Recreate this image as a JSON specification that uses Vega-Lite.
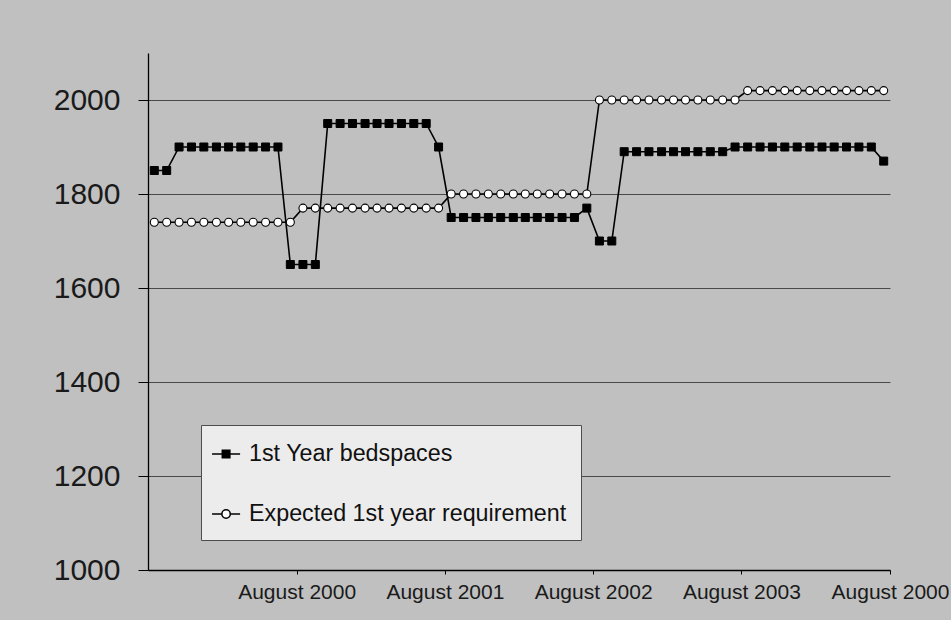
{
  "$schema": "https://vega.github.io/schema/vega-lite/v6.json",
  "width": 742,
  "height": 517,
  "autosize": {"type": "none"},
  "padding": {"left": 148, "top": 53, "right": 61, "bottom": 50},
  "background": "#c0c0c0",
  "config": {"font": "Liberation Sans", "view": {"stroke": null}},
  "data": {
    "values": [
      {"m": "1999-08-01", "s": "1st Year bedspaces", "v": 1850},
      {"m": "1999-09-01", "s": "1st Year bedspaces", "v": 1850},
      {"m": "1999-10-01", "s": "1st Year bedspaces", "v": 1900},
      {"m": "1999-11-01", "s": "1st Year bedspaces", "v": 1900},
      {"m": "1999-12-01", "s": "1st Year bedspaces", "v": 1900},
      {"m": "2000-01-01", "s": "1st Year bedspaces", "v": 1900},
      {"m": "2000-02-01", "s": "1st Year bedspaces", "v": 1900},
      {"m": "2000-03-01", "s": "1st Year bedspaces", "v": 1900},
      {"m": "2000-04-01", "s": "1st Year bedspaces", "v": 1900},
      {"m": "2000-05-01", "s": "1st Year bedspaces", "v": 1900},
      {"m": "2000-06-01", "s": "1st Year bedspaces", "v": 1900},
      {"m": "2000-07-01", "s": "1st Year bedspaces", "v": 1650},
      {"m": "2000-08-01", "s": "1st Year bedspaces", "v": 1650},
      {"m": "2000-09-01", "s": "1st Year bedspaces", "v": 1650},
      {"m": "2000-10-01", "s": "1st Year bedspaces", "v": 1950},
      {"m": "2000-11-01", "s": "1st Year bedspaces", "v": 1950},
      {"m": "2000-12-01", "s": "1st Year bedspaces", "v": 1950},
      {"m": "2001-01-01", "s": "1st Year bedspaces", "v": 1950},
      {"m": "2001-02-01", "s": "1st Year bedspaces", "v": 1950},
      {"m": "2001-03-01", "s": "1st Year bedspaces", "v": 1950},
      {"m": "2001-04-01", "s": "1st Year bedspaces", "v": 1950},
      {"m": "2001-05-01", "s": "1st Year bedspaces", "v": 1950},
      {"m": "2001-06-01", "s": "1st Year bedspaces", "v": 1950},
      {"m": "2001-07-01", "s": "1st Year bedspaces", "v": 1900},
      {"m": "2001-08-01", "s": "1st Year bedspaces", "v": 1750},
      {"m": "2001-09-01", "s": "1st Year bedspaces", "v": 1750},
      {"m": "2001-10-01", "s": "1st Year bedspaces", "v": 1750},
      {"m": "2001-11-01", "s": "1st Year bedspaces", "v": 1750},
      {"m": "2001-12-01", "s": "1st Year bedspaces", "v": 1750},
      {"m": "2002-01-01", "s": "1st Year bedspaces", "v": 1750},
      {"m": "2002-02-01", "s": "1st Year bedspaces", "v": 1750},
      {"m": "2002-03-01", "s": "1st Year bedspaces", "v": 1750},
      {"m": "2002-04-01", "s": "1st Year bedspaces", "v": 1750},
      {"m": "2002-05-01", "s": "1st Year bedspaces", "v": 1750},
      {"m": "2002-06-01", "s": "1st Year bedspaces", "v": 1750},
      {"m": "2002-07-01", "s": "1st Year bedspaces", "v": 1770},
      {"m": "2002-08-01", "s": "1st Year bedspaces", "v": 1700},
      {"m": "2002-09-01", "s": "1st Year bedspaces", "v": 1700},
      {"m": "2002-10-01", "s": "1st Year bedspaces", "v": 1890},
      {"m": "2002-11-01", "s": "1st Year bedspaces", "v": 1890},
      {"m": "2002-12-01", "s": "1st Year bedspaces", "v": 1890},
      {"m": "2003-01-01", "s": "1st Year bedspaces", "v": 1890},
      {"m": "2003-02-01", "s": "1st Year bedspaces", "v": 1890},
      {"m": "2003-03-01", "s": "1st Year bedspaces", "v": 1890},
      {"m": "2003-04-01", "s": "1st Year bedspaces", "v": 1890},
      {"m": "2003-05-01", "s": "1st Year bedspaces", "v": 1890},
      {"m": "2003-06-01", "s": "1st Year bedspaces", "v": 1890},
      {"m": "2003-07-01", "s": "1st Year bedspaces", "v": 1900},
      {"m": "2003-08-01", "s": "1st Year bedspaces", "v": 1900},
      {"m": "2003-09-01", "s": "1st Year bedspaces", "v": 1900},
      {"m": "2003-10-01", "s": "1st Year bedspaces", "v": 1900},
      {"m": "2003-11-01", "s": "1st Year bedspaces", "v": 1900},
      {"m": "2003-12-01", "s": "1st Year bedspaces", "v": 1900},
      {"m": "2004-01-01", "s": "1st Year bedspaces", "v": 1900},
      {"m": "2004-02-01", "s": "1st Year bedspaces", "v": 1900},
      {"m": "2004-03-01", "s": "1st Year bedspaces", "v": 1900},
      {"m": "2004-04-01", "s": "1st Year bedspaces", "v": 1900},
      {"m": "2004-05-01", "s": "1st Year bedspaces", "v": 1900},
      {"m": "2004-06-01", "s": "1st Year bedspaces", "v": 1900},
      {"m": "2004-07-01", "s": "1st Year bedspaces", "v": 1870},
      {"m": "1999-08-01", "s": "Expected 1st year requirement", "v": 1740},
      {"m": "1999-09-01", "s": "Expected 1st year requirement", "v": 1740},
      {"m": "1999-10-01", "s": "Expected 1st year requirement", "v": 1740},
      {"m": "1999-11-01", "s": "Expected 1st year requirement", "v": 1740},
      {"m": "1999-12-01", "s": "Expected 1st year requirement", "v": 1740},
      {"m": "2000-01-01", "s": "Expected 1st year requirement", "v": 1740},
      {"m": "2000-02-01", "s": "Expected 1st year requirement", "v": 1740},
      {"m": "2000-03-01", "s": "Expected 1st year requirement", "v": 1740},
      {"m": "2000-04-01", "s": "Expected 1st year requirement", "v": 1740},
      {"m": "2000-05-01", "s": "Expected 1st year requirement", "v": 1740},
      {"m": "2000-06-01", "s": "Expected 1st year requirement", "v": 1740},
      {"m": "2000-07-01", "s": "Expected 1st year requirement", "v": 1740},
      {"m": "2000-08-01", "s": "Expected 1st year requirement", "v": 1770},
      {"m": "2000-09-01", "s": "Expected 1st year requirement", "v": 1770},
      {"m": "2000-10-01", "s": "Expected 1st year requirement", "v": 1770},
      {"m": "2000-11-01", "s": "Expected 1st year requirement", "v": 1770},
      {"m": "2000-12-01", "s": "Expected 1st year requirement", "v": 1770},
      {"m": "2001-01-01", "s": "Expected 1st year requirement", "v": 1770},
      {"m": "2001-02-01", "s": "Expected 1st year requirement", "v": 1770},
      {"m": "2001-03-01", "s": "Expected 1st year requirement", "v": 1770},
      {"m": "2001-04-01", "s": "Expected 1st year requirement", "v": 1770},
      {"m": "2001-05-01", "s": "Expected 1st year requirement", "v": 1770},
      {"m": "2001-06-01", "s": "Expected 1st year requirement", "v": 1770},
      {"m": "2001-07-01", "s": "Expected 1st year requirement", "v": 1770},
      {"m": "2001-08-01", "s": "Expected 1st year requirement", "v": 1800},
      {"m": "2001-09-01", "s": "Expected 1st year requirement", "v": 1800},
      {"m": "2001-10-01", "s": "Expected 1st year requirement", "v": 1800},
      {"m": "2001-11-01", "s": "Expected 1st year requirement", "v": 1800},
      {"m": "2001-12-01", "s": "Expected 1st year requirement", "v": 1800},
      {"m": "2002-01-01", "s": "Expected 1st year requirement", "v": 1800},
      {"m": "2002-02-01", "s": "Expected 1st year requirement", "v": 1800},
      {"m": "2002-03-01", "s": "Expected 1st year requirement", "v": 1800},
      {"m": "2002-04-01", "s": "Expected 1st year requirement", "v": 1800},
      {"m": "2002-05-01", "s": "Expected 1st year requirement", "v": 1800},
      {"m": "2002-06-01", "s": "Expected 1st year requirement", "v": 1800},
      {"m": "2002-07-01", "s": "Expected 1st year requirement", "v": 1800},
      {"m": "2002-08-01", "s": "Expected 1st year requirement", "v": 2000},
      {"m": "2002-09-01", "s": "Expected 1st year requirement", "v": 2000},
      {"m": "2002-10-01", "s": "Expected 1st year requirement", "v": 2000},
      {"m": "2002-11-01", "s": "Expected 1st year requirement", "v": 2000},
      {"m": "2002-12-01", "s": "Expected 1st year requirement", "v": 2000},
      {"m": "2003-01-01", "s": "Expected 1st year requirement", "v": 2000},
      {"m": "2003-02-01", "s": "Expected 1st year requirement", "v": 2000},
      {"m": "2003-03-01", "s": "Expected 1st year requirement", "v": 2000},
      {"m": "2003-04-01", "s": "Expected 1st year requirement", "v": 2000},
      {"m": "2003-05-01", "s": "Expected 1st year requirement", "v": 2000},
      {"m": "2003-06-01", "s": "Expected 1st year requirement", "v": 2000},
      {"m": "2003-07-01", "s": "Expected 1st year requirement", "v": 2000},
      {"m": "2003-08-01", "s": "Expected 1st year requirement", "v": 2020},
      {"m": "2003-09-01", "s": "Expected 1st year requirement", "v": 2020},
      {"m": "2003-10-01", "s": "Expected 1st year requirement", "v": 2020},
      {"m": "2003-11-01", "s": "Expected 1st year requirement", "v": 2020},
      {"m": "2003-12-01", "s": "Expected 1st year requirement", "v": 2020},
      {"m": "2004-01-01", "s": "Expected 1st year requirement", "v": 2020},
      {"m": "2004-02-01", "s": "Expected 1st year requirement", "v": 2020},
      {"m": "2004-03-01", "s": "Expected 1st year requirement", "v": 2020},
      {"m": "2004-04-01", "s": "Expected 1st year requirement", "v": 2020},
      {"m": "2004-05-01", "s": "Expected 1st year requirement", "v": 2020},
      {"m": "2004-06-01", "s": "Expected 1st year requirement", "v": 2020},
      {"m": "2004-07-01", "s": "Expected 1st year requirement", "v": 2020}
    ]
  },
  "encoding": {
    "x": {
      "field": "m",
      "timeUnit": "utcyearmonth",
      "type": "temporal",
      "bandPosition": 0.5,
      "scale": {
        "type": "utc",
        "domain": [
          {"year": 1999, "month": 8, "date": 1, "utc": true},
          {"year": 2004, "month": 8, "date": 1, "utc": true}
        ]
      },
      "axis": {
        "title": null,
        "grid": false,
        "values": [
          {"year": 2000, "month": 8, "date": 1, "utc": true},
          {"year": 2001, "month": 8, "date": 1, "utc": true},
          {"year": 2002, "month": 8, "date": 1, "utc": true},
          {"year": 2003, "month": 8, "date": 1, "utc": true},
          {"year": 2004, "month": 8, "date": 1, "utc": true}
        ],
        "labelExpr": "utcyear(datum.value) == 2004 ? 'August 2000' : 'August ' + utcyear(datum.value)",
        "tickSize": 4,
        "tickColor": "black",
        "domainColor": "black",
        "domainWidth": 1.3,
        "labelFontSize": 21,
        "labelColor": "#1a1a1a",
        "labelPadding": 7,
        "labelFlush": false,
        "labelOverlap": false,
        "labelBound": false
      }
    },
    "y": {
      "field": "v",
      "type": "quantitative",
      "scale": {"domain": [1000, 2100], "nice": false, "zero": false},
      "axis": {
        "title": null,
        "format": "d",
        "values": [1000, 1200, 1400, 1600, 1800, 2000],
        "tickSize": 10,
        "tickColor": "black",
        "domainColor": "black",
        "domainWidth": 1.3,
        "labelFontSize": 30,
        "labelColor": "#1a1a1a",
        "labelPadding": 18,
        "grid": true,
        "gridColor": "#4a4a4a",
        "gridWidth": 1
      }
    }
  },
  "layer": [
    {
      "mark": {"type": "line", "color": "black", "strokeWidth": 1.6},
      "encoding": {"detail": {"field": "s", "type": "nominal"}}
    },
    {
      "transform": [{"filter": "datum.s == '1st Year bedspaces'"}],
      "mark": {"type": "point", "shape": "square", "filled": true, "fill": "black", "stroke": "black", "strokeWidth": 1, "size": 64, "opacity": 1}
    },
    {
      "transform": [{"filter": "datum.s == 'Expected 1st year requirement'"}],
      "mark": {"type": "point", "shape": "circle", "filled": true, "fill": "white", "stroke": "black", "strokeWidth": 1.1, "size": 64, "opacity": 1}
    },
    {
      "transform": [{"filter": "false"}],
      "mark": {"type": "point", "filled": true, "stroke": "black", "strokeWidth": 1.5, "opacity": 1},
      "encoding": {
        "shape": {
          "field": "s",
          "type": "nominal",
          "scale": {
            "domain": ["1st Year bedspaces", "Expected 1st year requirement"],
            "range": [
              "M-1.28,0H0.72M-0.55,-0.27H-0.01V0.27H-0.55Z",
              "M-1.28,0H-0.58M0.02,0H0.72M0.02,0A0.3,0.3 0 1 1 -0.58,0A0.3,0.3 0 1 1 0.02,0Z"
            ]
          },
          "legend": {
            "title": null,
            "orient": "none",
            "legendX": 53,
            "legendY": 372,
            "direction": "vertical",
            "padding": 14,
            "fillColor": "#ececec",
            "strokeColor": "#4d4d4d",
            "symbolSize": 784,
            "symbolStrokeWidth": 1.5,
            "symbolStrokeColor": "black",
            "symbolOpacity": 1,
            "labelFontSize": 23.3,
            "labelColor": "#111111",
            "labelOffset": 4,
            "labelLimit": 500,
            "rowPadding": 33,
            "encode": {
              "symbols": {
                "update": {
                  "stroke": {"value": "black"},
                  "strokeWidth": {"value": 1.5},
                  "size": {"value": 784}
                }
              }
            }
          }
        },
        "fill": {
          "field": "s",
          "type": "nominal",
          "scale": {
            "domain": ["1st Year bedspaces", "Expected 1st year requirement"],
            "range": ["black", "white"]
          },
          "legend": {
            "title": null,
            "orient": "none",
            "legendX": 53,
            "legendY": 372,
            "direction": "vertical",
            "padding": 14,
            "fillColor": "#ececec",
            "strokeColor": "#4d4d4d",
            "symbolSize": 784,
            "symbolStrokeWidth": 1.5,
            "symbolStrokeColor": "black",
            "symbolOpacity": 1,
            "labelFontSize": 23.3,
            "labelColor": "#111111",
            "labelOffset": 4,
            "labelLimit": 500,
            "rowPadding": 33,
            "encode": {
              "symbols": {
                "update": {
                  "stroke": {"value": "black"},
                  "strokeWidth": {"value": 1.5},
                  "size": {"value": 784}
                }
              }
            }
          }
        }
      }
    }
  ]
}
